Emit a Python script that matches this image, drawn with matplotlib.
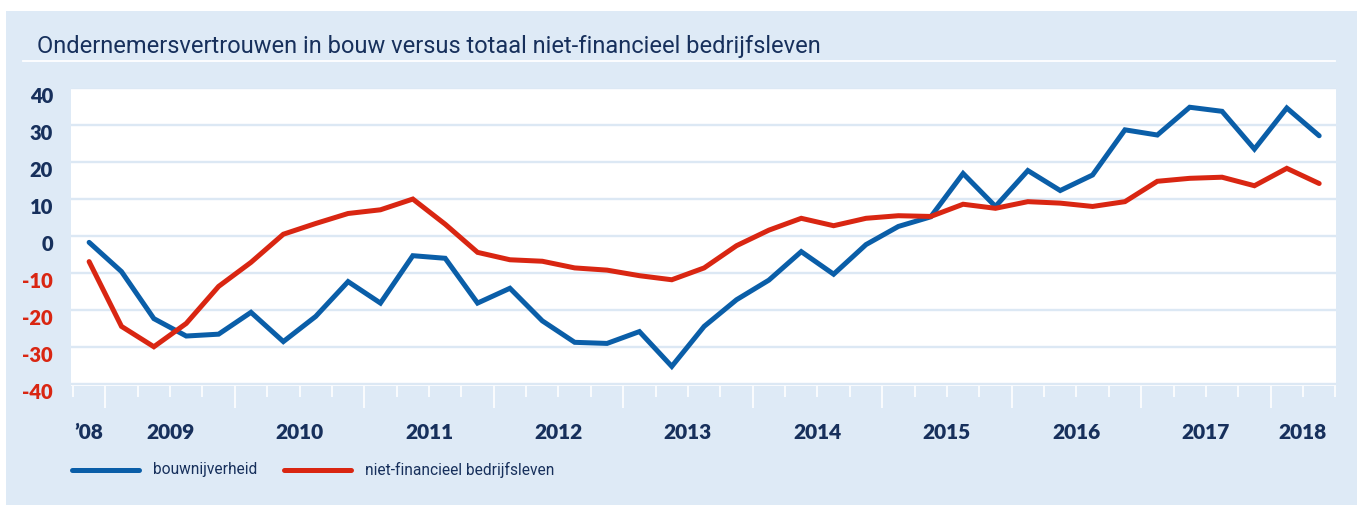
import numpy as np
import matplotlib.pyplot as plt
from matplotlib.patches import Rectangle
from matplotlib.lines import Line2D
from matplotlib.transforms import ScaledTranslation, blended_transform_factory

# quarters: 2008 Q4 .. 2018 Q2
quarters = ["2008Q4"] + [f"{y}Q{q}" for y in range(2009, 2018) for q in range(1, 5)] + ["2018Q1", "2018Q2"]

bouw = [-1.7, -9.6, -22.3, -27.0, -26.5, -20.6, -28.5, -21.7, -12.3, -18.1,
        -5.3, -6.0, -18.1, -14.1, -22.9, -28.7, -29.0, -25.8, -35.2, -24.4,
        -17.2, -11.9, -4.2, -10.3, -2.3, 2.6, 5.2, 16.9, 8.0, 17.7,
        12.3, 16.5, 28.7, 27.3, 34.8, 33.7, 23.5, 34.6, 27.1]
niet_fin = [-6.9, -24.4, -29.9, -23.6, -13.6, -7.1, 0.5, 3.4, 6.1, 7.1,
            10.0, 3.2, -4.4, -6.4, -6.8, -8.6, -9.2, -10.7, -11.8, -8.6,
            -2.6, 1.6, 4.8, 2.8, 4.8, 5.5, 5.3, 8.6, 7.5, 9.3,
            8.9, 8.0, 9.3, 14.8, 15.6, 15.9, 13.6, 18.3, 14.2]

yticks = [40, 30, 20, 10, 0, -10, -20, -30, -40]
year_names = ["2008", "2009", "2010", "2011", "2012", "2013", "2014", "2015", "2016", "2017", "2018"]
year_labels = ["\u201908", "2009", "2010", "2011", "2012", "2013", "2014", "2015", "2016", "2017", "2018"]

title = "Ondernemersvertrouwen in bouw versus totaal niet-financieel bedrijfsleven"
names = ["bouwnijverheid", "niet-financieel bedrijfsleven"]

BLUE = "#0a5ea8"
RED = "#d92612"
NAVY = "#17305c"
PANEL = "#deeaf6"
GRID = "#dce8f4"

W, H = 1357, 506
fig = plt.figure(figsize=(W / 100, H / 100), dpi=100)
fig.patch.set_facecolor("white")

def fx(px):
    return px / W

def fy(py):
    return 1 - py / H

fig.patches.append(Rectangle((fx(6), 0), fx(W - 6), fy(12), transform=fig.transFigure,
                             facecolor=PANEL, edgecolor="none", zorder=-5))

txt_font = ["Roboto", "DejaVu Sans"]
num_font = ["Lato", "DejaVu Sans"]

fig.text(fx(37), fy(46), title, fontsize=17.0, color=NAVY, family=txt_font, va="center", ha="left")
fig.lines.append(Line2D([fx(23), fx(1335)], [fy(62), fy(62)], transform=fig.transFigure,
                        color="white", lw=1.3))

ax = fig.add_axes([fx(71), fy(387), fx(1336 - 71), fy(89) - fy(387)])
ax.set_zorder(2)
ax.set_facecolor("white")
for s in ax.spines.values():
    s.set_visible(False)

x = np.arange(len(quarters))
ax.plot(x, bouw, color=BLUE, lw=3.6, solid_joinstyle="miter", solid_capstyle="round", zorder=3)
ax.plot(x, niet_fin, color=RED, lw=3.6, solid_joinstyle="miter", solid_capstyle="round", zorder=3)

ax.set_xlim(-0.56, len(quarters) - 0.48)
ax.set_ylim(-40.5, 40)

ax.set_yticks(yticks)
ax.set_yticklabels([str(v) for v in yticks])
ax.yaxis.grid(True, color=GRID, lw=1.7, zorder=1)
ax.set_axisbelow(True)
ax.tick_params(axis="y", length=0, pad=13)
off = ScaledTranslation(0, -6 / 100, fig.dpi_scale_trans)
for lab, v in zip(ax.get_yticklabels(), yticks):
    lab.set_fontfamily(num_font)
    lab.set_fontweight("heavy")
    lab.set_fontsize(14.5)
    lab.set_color(RED if v < 0 else NAVY)
    lab.set_transform(lab.get_transform() + off)

# quarter ticks (short) and year ticks (long)
bounds = np.arange(len(quarters) + 1) - 0.5
year_start = [i - 0.5 for i, q in enumerate(quarters) if q.endswith("Q1")]
ax.set_xticks(year_start)
ax.set_xticks([b for b in bounds if b not in year_start], minor=True)
ax.set_xticklabels([])
ax.tick_params(axis="x", which="major", length=15.8, width=1.2, color="white", direction="out")
ax.tick_params(axis="x", which="minor", length=8, width=1.2, color="white", direction="out")

tr = blended_transform_factory(ax.transData, fig.transFigure)
for yname, ylab in zip(year_names, year_labels):
    idx = [i for i, q in enumerate(quarters) if q.startswith(yname)]
    ax.text(np.mean(idx), fy(433), ylab, transform=tr, ha="center", va="center",
            fontsize=15, fontweight="heavy", color=NAVY, family=num_font, clip_on=False)

# legend
for (x0, x1, tx), col, name in zip([(72, 139, 153), (284, 351, 365)], [BLUE, RED], names):
    fig.lines.append(Line2D([fx(x0), fx(x1)], [fy(471), fy(471)], transform=fig.transFigure,
                            color=col, lw=3.6, solid_capstyle="round"))
    fig.text(fx(tx), fy(470), name, fontsize=11.2, color=NAVY, family=txt_font, va="center", ha="left")

fig.savefig("out.png", dpi=100)
